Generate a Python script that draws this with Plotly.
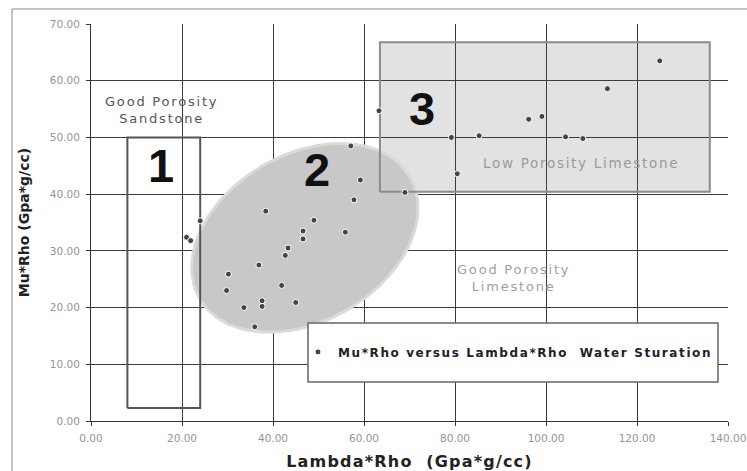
import numpy as np
import plotly.graph_objects as go

# Mu*Rho vs Lambda*Rho crossplot samples (Gpa*g/cc)
lambda_rho = [57.1, 59.2, 57.8, 38.4, 49.0, 55.9, 46.6, 46.6, 43.3, 42.7,
              36.9, 30.2, 29.8, 41.9, 45.0, 37.6, 37.6, 33.6, 36.0, 21.0,
              21.9, 24.0,
              63.3, 69.0, 79.2, 85.3, 80.5, 96.2, 99.1, 104.3, 108.1, 113.5, 125.0]
mu_rho = [48.5, 42.5, 39.0, 37.0, 35.4, 33.3, 33.5, 32.1, 30.5, 29.2,
          27.5, 25.9, 23.0, 23.9, 20.9, 21.2, 20.2, 20.0, 16.6, 32.4,
          31.8, 35.3,
          54.7, 40.3, 50.0, 50.3, 43.6, 53.2, 53.7, 50.1, 49.8, 58.6, 63.5]

x_ticks = [0, 20, 40, 60, 80, 100, 120, 140]
y_ticks = [0, 10, 20, 30, 40, 50, 60, 70]

# zone outlines in data units
zone1 = dict(x0=8.0, x1=24.0, y0=2.3, y1=50.0)
zone3 = dict(x0=63.5, x1=136.0, y0=40.4, y1=66.8)

W, H = 747, 471
ML, MR, MT, MB = 91, 19, 24, 50
X_RANGE, Y_RANGE = [0, 140], [0, 70]
sx = (W - ML - MR) / (X_RANGE[1] - X_RANGE[0])
sy = (H - MT - MB) / (Y_RANGE[1] - Y_RANGE[0])


def ellipse_xy(cx, cy, a_px, b_px, ang_deg, n=160):
    """Rotated ellipse outline; semi-axes given in screen pixels."""
    th = np.radians(ang_deg)
    t = np.linspace(0, 2 * np.pi, n)
    u, v = a_px * np.cos(t), b_px * np.sin(t)
    dx = u * np.cos(th) - v * np.sin(th)
    dy = u * np.sin(th) + v * np.cos(th)
    return cx + dx / sx, cy + dy / sy


def rect_xy(z):
    return ([z["x0"], z["x1"], z["x1"], z["x0"], z["x0"]],
            [z["y0"], z["y0"], z["y1"], z["y1"], z["y0"]])


def spaced(text, px):
    return f'<span style="letter-spacing:{px}px">{text}</span>'


LBL = "DejaVu Sans"

fig = go.Figure()

# zone 2: soft-edged grey ellipse (drawn as traces so it sits over the grid)
for grow, col in [(3, "#dadada"), (0, "#c8c8c8")]:
    ex, ey = ellipse_xy(47.0, 32.3, 120 + grow, 82 + grow, 30)
    fig.add_trace(go.Scatter(x=ex, y=ey, mode="lines", fill="toself",
                             fillcolor=col, line=dict(width=0),
                             hoverinfo="skip", showlegend=False))

# zone outlines
for z, col in [(zone3, "#8c8c8c"), (zone1, "#555555")]:
    rx, ry = rect_xy(z)
    fig.add_trace(go.Scatter(x=rx, y=ry, mode="lines",
                             line=dict(color=col, width=2),
                             hoverinfo="skip", showlegend=False))

fig.add_trace(go.Scatter(
    x=lambda_rho, y=mu_rho, mode="markers",
    name=spaced("Mu*Rho versus Lambda*Rho  Water Sturation", 1.6),
    marker=dict(size=6, color="#444444", line=dict(color="white", width=1)),
))

shapes = [
    # zone 3 fill, under the grid
    dict(type="rect", xref="x", yref="y", layer="below",
         fillcolor="#e2e2e2", line=dict(width=0), **zone3),
    # legend frame
    dict(type="rect", xref="paper", yref="paper", layer="above",
         x0=0.3407, x1=0.9843, y0=0.0982, y1=0.2469,
         fillcolor="white", line=dict(color="#666666", width=1.5)),
    # outer chart frame
    dict(type="line", xref="paper", yref="paper", x0=-0.124, x1=1.1, y0=1.038, y1=1.038,
         line=dict(color="#b0b0b0", width=1.5)),
    dict(type="line", xref="paper", yref="paper", x0=-0.124, x1=-0.124, y0=1.038, y1=-0.2,
         line=dict(color="#b0b0b0", width=1.5)),
]

digit_font = dict(family="Liberation Sans", size=47, color="#111111", weight="bold")
annotations = [
    dict(x=15.4, y=45.0, text="1", font=digit_font, showarrow=False),
    dict(x=49.6, y=44.3, text="2", font=digit_font, showarrow=False),
    dict(x=72.7, y=55.1, text="3", font=digit_font, showarrow=False),
    dict(x=15.4, y=54.8, text=spaced("Good Porosity", 1.8) + "<br>" + spaced("Sandstone", 1.8),
         font=dict(family=LBL, size=13, color="#555555"), showarrow=False),
    dict(x=92.9, y=25.2, text=spaced("Good Porosity", 1.8) + "<br>" + spaced("Limestone", 1.8),
         font=dict(family=LBL, size=13, color="#a0a0a0"), showarrow=False),
    dict(x=107.8, y=45.5, text=spaced("Low Porosity Limestone", 1.7),
         font=dict(family=LBL, size=13.5, color="#9a9a9a"), showarrow=False),
]

axis_common = dict(
    showgrid=True, gridcolor="#3c3c3c", gridwidth=1,
    showline=True, linecolor="#333333", linewidth=1,
    ticks="outside", ticklen=4, tickcolor="#333333",
    tickformat=".2f", zeroline=False,
    tickfont=dict(family=LBL, size=10.5, color="#949494"),
)

fig.update_layout(
    width=W, height=H,
    margin=dict(l=ML, r=MR, t=MT, b=MB, autoexpand=False),
    paper_bgcolor="white", plot_bgcolor="white",
    shapes=shapes, annotations=annotations,
    showlegend=True,
    legend=dict(x=0.325, y=0.174, xanchor="left", yanchor="middle",
                bgcolor="rgba(0,0,0,0)", borderwidth=0,
                font=dict(family=LBL, size=12, color="#222222", weight="bold")),
    xaxis=dict(range=X_RANGE, tickvals=x_ticks, automargin=False, ticklabelstandoff=3,
               title=dict(text=spaced("Lambda*Rho  (Gpa*g/cc)", 1.2), standoff=13,
                          font=dict(family=LBL, size=16, color="#222222", weight="bold")),
               **axis_common),
    yaxis=dict(range=Y_RANGE, tickvals=y_ticks, automargin=False, ticklabelstandoff=4,
               title=dict(text="Mu*Rho (Gpa*g/cc)", standoff=16,
                          font=dict(family=LBL, size=14, color="#222222", weight="bold")),
               **axis_common),
)

fig.write_html("out.html")
